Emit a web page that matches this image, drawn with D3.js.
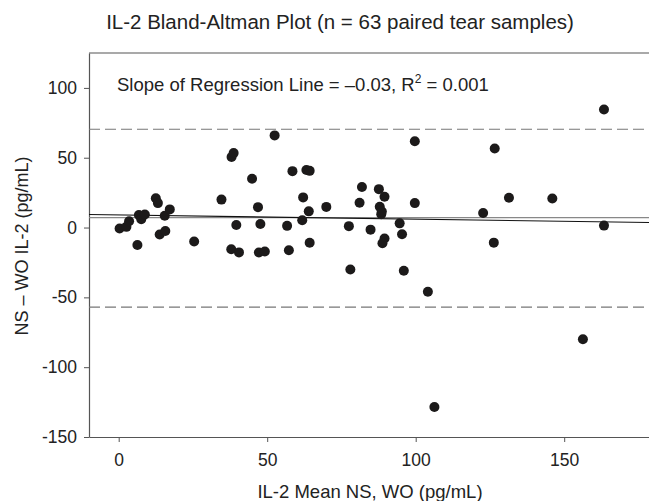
<!DOCTYPE html>
<html>
<head>
<meta charset="utf-8">
<script src="https://cdn.jsdelivr.net/npm/d3@7"></script>
<style>
  body { margin: 0; background: #fff; }
  svg { display: block; font-family: "Liberation Sans", Arial, sans-serif; }
</style>
</head>
<body>
<div></div>
<script>
const WIDTH = 649;
const HEIGHT = 501;
// data
const meanVals = [0.3, 2.6, 3.5, 6.3, 6.8, 7.6, 8.8, 12.5, 13.2, 13.8, 15.7, 15.5, 17.2, 25.4,
  34.6, 38.0, 38.7, 37.9, 40.5, 39.6, 44.9, 46.9, 47.7, 47.2, 49.2, 52.5, 56.7, 57.3, 58.5,
  62.1, 61.8, 63.2, 64.3, 64.0, 64.3, 69.9, 77.5, 78.0, 81.1, 81.9, 84.8, 87.6, 89.5, 87.9,
  88.4, 88.6, 89.5, 88.8, 94.6, 95.4, 96.0, 99.7, 99.7, 104.1, 106.3, 122.7, 126.3, 126.6,
  131.4, 146.0, 156.3, 163.4, 163.4];
const diffVals = [-0.7, 0.5, 4.5, -12.5, 9.0, 6.0, 9.3, 21.0, 17.5, -5.0, -2.5, 8.5, 13.0, -10.0,
  20.0, 50.5, 53.3, -15.5, -17.8, 1.8, 34.9, 14.6, 2.5, -17.9, -17.2, 66.0, 1.2, -16.2, 40.4,
  21.6, 5.2, 41.2, 40.6, 11.6, -10.9, 14.8, 1.0, -30.0, 17.7, 29.0, -1.5, 27.5, 22.0, 14.9,
  9.6, 11.5, -7.8, -11.3, 3.0, -4.8, -31.0, 61.8, 17.5, -46.0, -128.5, 10.4, -10.8, 56.6,
  21.3, 20.8, -80.0, 84.6, 1.4];
const meanBias = 7.1;
const limits = [70.4, -57.0];
const regIntercept = 9.0;
const regSlope = -0.03;
const xTicks = [0, 50, 100, 150];
const yTicks = [-150, -100, -50, 0, 50, 100];

const margin = { top: 53, left: 89, bottom: 437 };
const x = d3.scaleLinear().domain([-10, 180]).range([margin.left, margin.left + 190 * 2.97]);
const y = d3.scaleLinear().domain([-150, 125]).range([margin.bottom, margin.top]);

const svg = d3.select('div').append('svg')
    .attr('width', WIDTH)
    .attr('height', HEIGHT);

// title
svg.append('text')
    .attr('x', 340).attr('y', 29)
    .attr('text-anchor', 'middle')
    .attr('font-size', 20.5)
    .attr('fill', '#222')
    .text('IL-2 Bland-Altman Plot (n = 63 paired tear samples)');

// top frame line
svg.append('line')
    .attr('x1', x(-10)).attr('x2', x(180))
    .attr('y1', y(125)).attr('y2', y(125))
    .attr('stroke', '#555').attr('stroke-width', 1.2);

// axes
const xAxis = svg.append('g')
    .attr('transform', 'translate(0,' + margin.bottom + ')')
    .call(d3.axisBottom(x).tickValues(xTicks).tickSize(5).tickSizeOuter(0).tickPadding(12));
const yAxis = svg.append('g')
    .attr('transform', 'translate(' + margin.left + ',0)')
    .call(d3.axisLeft(y).tickValues(yTicks).tickSize(5).tickSizeOuter(0).tickPadding(7)
        .tickFormat(d => String(d)));
[xAxis, yAxis].forEach(g => {
    g.select('.domain').attr('stroke', '#555').attr('stroke-width', 1.2);
    g.selectAll('.tick line').attr('stroke', '#555');
    g.selectAll('.tick text').attr('font-size', 17.5).attr('fill', '#222')
        .attr('font-family', '"Liberation Sans", Arial, sans-serif');
});

// limits of agreement
svg.selectAll('.loa').data(limits).enter().append('line')
    .attr('class', 'loa')
    .attr('x1', x(-10)).attr('x2', x(180))
    .attr('y1', d => y(d)).attr('y2', d => y(d))
    .attr('stroke', '#777').attr('stroke-width', 1.1)
    .attr('stroke-dasharray', '11,5');

// mean bias line
svg.append('line')
    .attr('x1', x(-10)).attr('x2', x(180))
    .attr('y1', y(meanBias)).attr('y2', y(meanBias))
    .attr('stroke', '#888').attr('stroke-width', 1.1);

// regression line
svg.append('line')
    .attr('x1', x(-10)).attr('x2', x(180))
    .attr('y1', y(regIntercept + regSlope * -10)).attr('y2', y(regIntercept + regSlope * 180))
    .attr('stroke', '#111').attr('stroke-width', 1.1);

// points
svg.selectAll('.pt').data(meanVals).enter().append('circle')
    .attr('class', 'pt')
    .attr('cx', d => x(d))
    .attr('cy', (d, i) => y(diffVals[i]))
    .attr('r', 5)
    .attr('fill', '#1c1a1a');

// annotation
const note = svg.append('text')
    .attr('x', 117).attr('y', 91)
    .attr('font-size', 18.5)
    .attr('fill', '#222');
note.append('tspan').text('Slope of Regression Line = \u20130.03, R');
note.append('tspan').attr('dy', -8).attr('font-size', 12).text('2');
note.append('tspan').attr('dy', 8).text(' = 0.001');

// axis titles
svg.append('text')
    .attr('x', 370).attr('y', 498)
    .attr('text-anchor', 'middle')
    .attr('font-size', 18.5)
    .attr('fill', '#222')
    .text('IL-2 Mean NS, WO (pg/mL)');
svg.append('text')
    .attr('transform', 'translate(28,' + 246 + ') rotate(-90)')
    .attr('text-anchor', 'middle')
    .attr('font-size', 18)
    .attr('fill', '#222')
    .text('NS \u2013 WO IL-2 (pg/mL)');
</script>
</body>
</html>
